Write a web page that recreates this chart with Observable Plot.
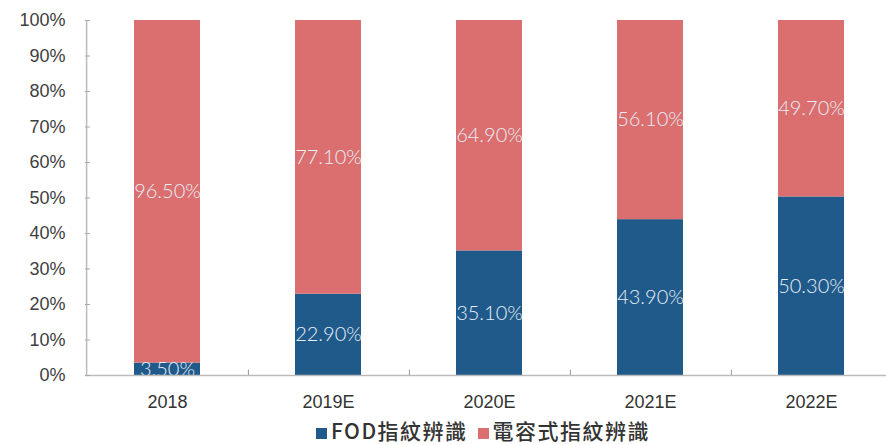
<!DOCTYPE html>
<html>
<head>
<meta charset="utf-8">
<script src="https://cdn.jsdelivr.net/npm/d3@7"></script>
<script src="https://cdn.jsdelivr.net/npm/@observablehq/plot@0.6"></script>
<style>
  body { margin: 0; background: #fff; font-family: "Liberation Sans", Arial, sans-serif; }
  #legend { display: flex; justify-content: center; align-items: center; gap: 10px; font-size: 21px; font-weight: 500; color: #333; height: 30px; padding-left: 80px; font-family: "Noto Sans CJK TC", sans-serif; letter-spacing: 1.5px; }
  #legend span.sw { display: inline-block; width: 11px; height: 11px; margin-right: 4px; vertical-align: middle; }
</style>
</head>
<body>
<div id="chart"></div>
<div id="legend"></div>
<script>
const years = ["2018", "2019E", "2020E", "2021E", "2022E"];
const fod = [3.5, 22.9, 35.1, 43.9, 50.3];
const capacitive = [96.5, 77.1, 64.9, 56.1, 49.7];
const seriesNames = ["FOD指紋辨識", "電容式指紋辨識"];
const colors = ["#1f5a8a", "#db6e6e"];
const yTicks = [0, 10, 20, 30, 40, 50, 60, 70, 80, 90, 100];

const data = [];
years.forEach((y, i) => {
  data.push({year: y, series: seriesNames[0], value: fod[i]});
  data.push({year: y, series: seriesNames[1], value: capacitive[i]});
});

const W = 886, ML = 85, MR = -8;
const step = (W - MR - ML) / years.length;

const chart = Plot.plot({
  width: W,
  height: 415,
  marginLeft: ML,
  marginRight: MR,
  marginTop: 20,
  marginBottom: 40,
  style: {fontFamily: "Liberation Sans, Arial, sans-serif", background: "#fff", overflow: "hidden"},
  x: {domain: years, paddingInner: 0.59, paddingOuter: 0.295, align: 0.5, label: null},
  y: {domain: [0, 100], label: null},
  color: {domain: seriesNames, range: colors},
  marks: [
    Plot.barY(data, Plot.stackY({x: "year", y: "value", fill: "series", order: seriesNames})),
    Plot.text(data, Plot.stackY({x: "year", y: "value", z: "series", order: seriesNames,
      text: d => d.value.toFixed(2) + "%", fill: "#e6eef8", fontSize: 20,
      fontFamily: "Lato, sans-serif", fontWeight: 300})),
    Plot.ruleY([0], {stroke: "#bbb", strokeWidth: 1.5}),
    Plot.ruleX([years[0]], {dx: -step / 2, stroke: "#bbb", strokeWidth: 1.5}),
    Plot.ruleX(years, {dx: step / 2, y1: 0, y2: 1.5, stroke: "#999"}),
    Plot.axisY({ticks: yTicks, tickFormat: d => d + "%", tickSize: -5, tickPadding: 25,
      fontSize: 18, fill: "#404040", stroke: "#aaa"}),
    Plot.axisX({tickSize: 0, tickPadding: 20, fontSize: 18, fill: "#333"})
  ]
});
document.getElementById("chart").appendChild(chart);

const legend = document.getElementById("legend");
seriesNames.forEach((name, i) => {
  const item = document.createElement("span");
  item.innerHTML = `<span class="sw" style="background:${colors[i]}"></span>${name}`;
  legend.appendChild(item);
});
</script>
</body>
</html>
